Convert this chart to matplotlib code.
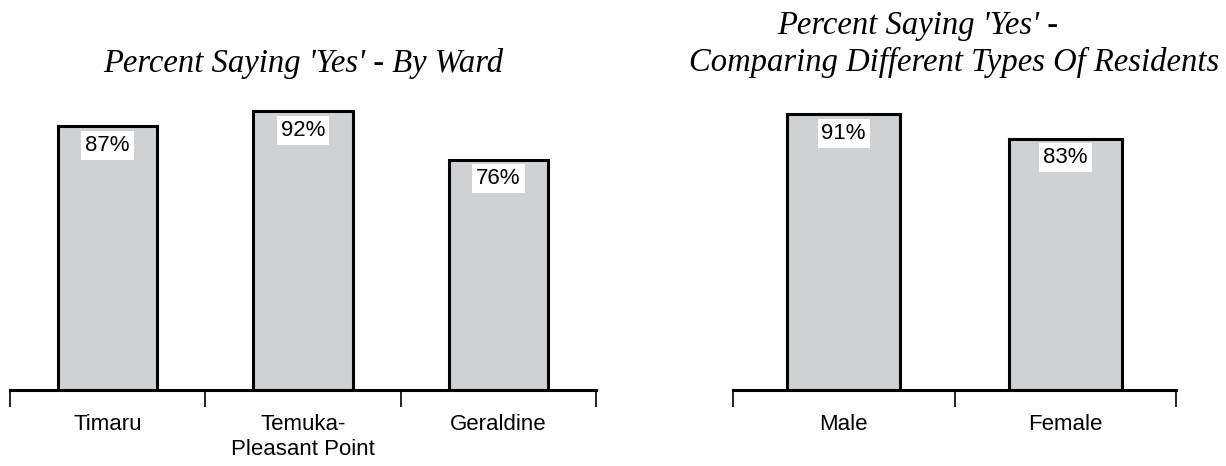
import matplotlib.pyplot as plt

ward_names = ["Timaru", "Temuka-\nPleasant Point", "Geraldine"]
ward_yes = [87, 92, 76]

resident_types = ["Male", "Female"]
resident_yes = [91, 83]

bar_fill = "#d0d1d3"
title_font = dict(family="Liberation Serif", style="italic", fontsize=23.5)

fig = plt.figure(figsize=(12.26, 4.66), dpi=100)
W, H = 1226, 466

# axes boxes in pixels: left, right, bottom line, 100% line
ax1 = fig.add_axes([10 / W, (H - 390) / H, 586 / W, 303 / H])
ax2 = fig.add_axes([733 / W, (H - 390) / H, 443 / W, 303 / H])


def draw_panel(ax, names, values):
    n = len(names)
    xs = range(n)
    ax.bar(xs, values, width=0.51, color=bar_fill, edgecolor="black",
           linewidth=2.2, zorder=2)
    for x, v in zip(xs, values):
        ax.annotate(f"{v}%", (x, v), xytext=(0, -6), textcoords="offset points",
                    ha="center", va="top", fontsize=16,
                    family="Liberation Sans",
                    bbox=dict(boxstyle="square,pad=0.18", fc="white", ec="none"),
                    zorder=3)
    ax.set_xlim(-0.5, n - 0.5)
    ax.set_ylim(0, 100)
    for side in ["top", "right", "left"]:
        ax.spines[side].set_visible(False)
    ax.spines["bottom"].set_linewidth(2.2)
    ax.spines["bottom"].set_zorder(4)
    ax.set_yticks([])
    # labels at bar centres, tick marks at category boundaries
    ax.set_xticks(list(xs))
    ax.set_xticklabels(names, fontsize=16, family="Liberation Sans",
                       linespacing=1.3)
    ax.tick_params(axis="x", which="major", length=0, pad=17)
    ax.set_xticks([i - 0.5 for i in range(n + 1)], minor=True)
    ax.tick_params(axis="x", which="minor", length=12.5, width=1.2,
                   direction="out", color="black")


draw_panel(ax1, ward_names, ward_yes)
draw_panel(ax2, resident_types, resident_yes)

ax1.set_title("Percent Saying 'Yes' - By Ward", pad=11, **title_font)
ax2.text(0.4165, 1.0 + 53 / 303, "Percent Saying 'Yes' -", ha="center",
         va="baseline", transform=ax2.transAxes, **title_font)
ax2.text(0.5, 1.0 + 16 / 303, "Comparing Different Types Of Residents",
         ha="center", va="baseline", transform=ax2.transAxes, **title_font)

plt.savefig("out.png", dpi=100)
